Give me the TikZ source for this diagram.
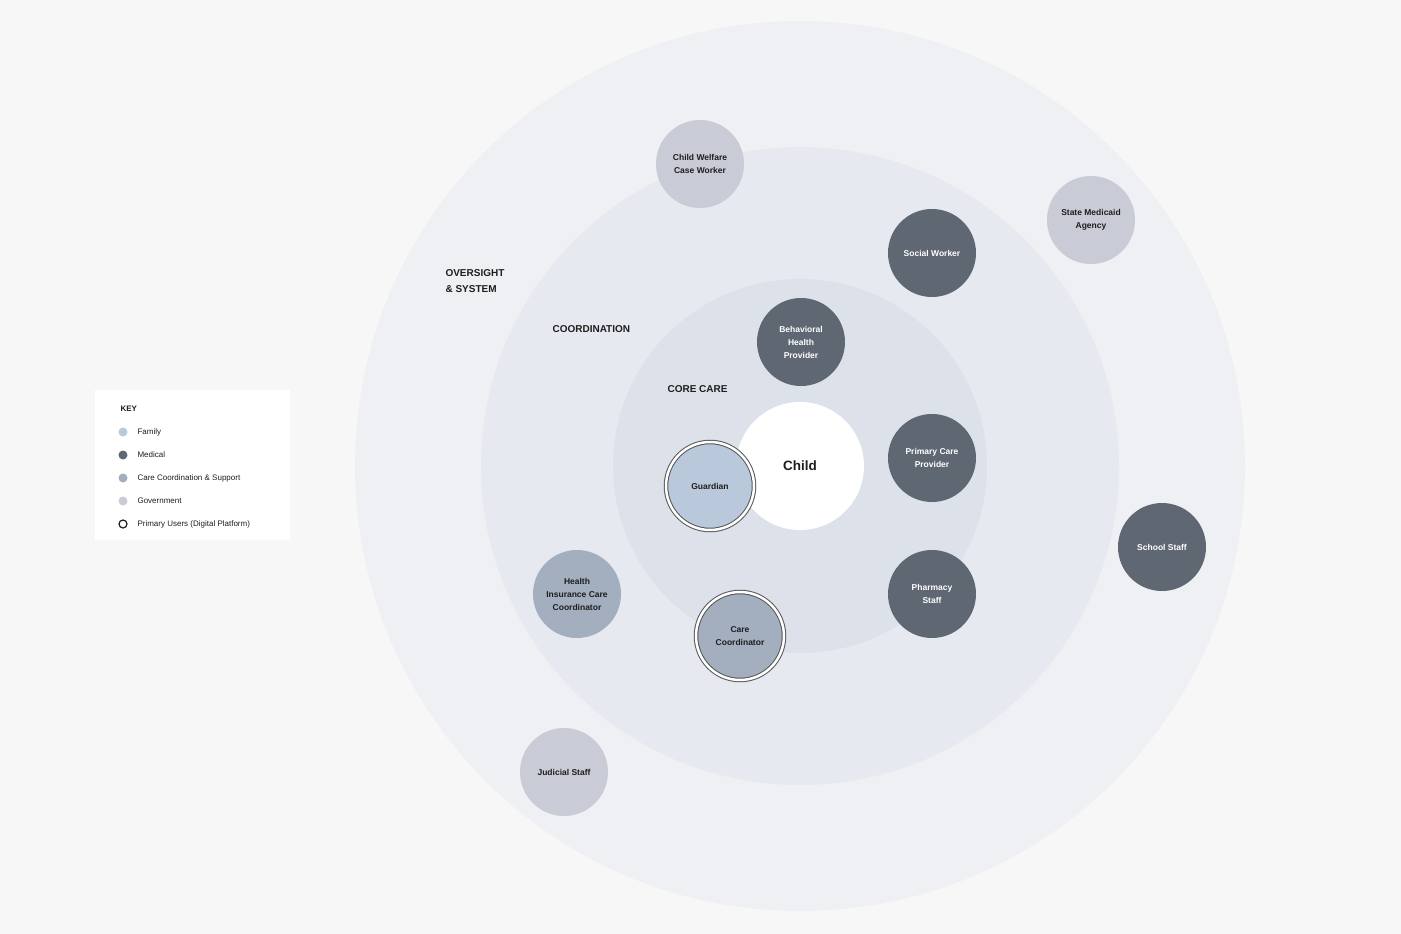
\documentclass[tikz,border=0pt]{standalone}
\usepackage{fontspec}
\setmainfont{Liberation Sans}
\definecolor{bgc}{HTML}{F7F7F7}
\definecolor{ringA}{HTML}{EFF0F3}
\definecolor{ringB}{HTML}{E6E9EF}
\definecolor{ringC}{HTML}{DCE1EA}
\definecolor{fam}{HTML}{BAC8DB}
\definecolor{med}{HTML}{5F6772}
\definecolor{coord}{HTML}{A3AEBE}
\definecolor{gov}{HTML}{C9CCD6}
\definecolor{ink}{HTML}{1E1E1E}
\begin{document}
\begin{tikzpicture}[x=1pt,y=-1pt,
  actor/.style={circle,minimum size=88pt,inner sep=0pt,align=center,font=\fontsize{8.5}{13}\selectfont\bfseries,text=ink},
  medact/.style={actor,fill=med,text=white},
  famact/.style={actor,fill=fam},
  coordact/.style={actor,fill=coord},
  govact/.style={actor,fill=gov},
  primary/.style={double=white,double distance=2.5pt,draw=ink!75,line width=1pt},
  ringlabel/.style={font=\fontsize{10}{16}\selectfont\bfseries,text=ink,align=left},
  keytext/.style={font=\fontsize{8}{10}\selectfont,text=ink,anchor=west},
  keydot/.style={circle,minimum size=9pt,inner sep=0pt}]
\fill[bgc] (0,0) rectangle (1401,934);
\useasboundingbox (0,0) rectangle (1401,934);
\fill[ringA] (800,466) circle (445);
\fill[ringB] (800,466) circle (319);
\fill[ringC] (800,466) circle (187);
\node[circle,fill=white,minimum size=128pt,inner sep=0pt,font=\fontsize{13.5}{16}\selectfont\bfseries,text=ink] (child) at (800,466) {Child};
\node[ringlabel,anchor=west] (lo) at (442,281) {OVERSIGHT\\\& SYSTEM};
\node[ringlabel,anchor=west] (lc) at (549,329) {COORDINATION};
\node[ringlabel,anchor=west] (lcc) at (664,389) {CORE CARE};
\node[govact] (cw) at (700,164) {Child Welfare\\Case Worker};
\node[govact] (sm) at (1091,220) {State Medicaid\\Agency};
\node[medact] (sw) at (932,253) {Social Worker};
\node[medact] (bh) at (801,342) {Behavioral\\Health\\Provider};
\node[medact] (pc) at (932,458) {Primary Care\\Provider};
\node[famact,primary] (gu) at (710,486) {Guardian};
\node[medact] (ss) at (1162,547) {School Staff};
\node[coordact] (hi) at (577,594) {Health\\Insurance Care\\Coordinator};
\node[medact] (ph) at (932,594) {Pharmacy\\Staff};
\node[coordact,primary] (cc) at (740,636) {Care\\Coordinator};
\node[govact] (js) at (564,772) {Judicial Staff};
% key
\fill[white] (95,390) rectangle (290,540);
\node[font=\fontsize{8}{10}\selectfont\bfseries,text=ink,anchor=west] (key) at (117,409) {KEY};
\node[keydot,fill=fam] (k1) at (123,432) {};
\node[keytext] (t1) at (134,432) {Family};
\node[keydot,fill=med] (k2) at (123,455) {};
\node[keytext] (t2) at (134,455) {Medical};
\node[keydot,fill=coord] (k3) at (123,478) {};
\node[keytext] (t3) at (134,478) {Care Coordination \& Support};
\node[keydot,fill=gov] (k4) at (123,501) {};
\node[keytext] (t4) at (134,501) {Government};
\node[keydot,draw=ink,line width=1.2pt,minimum size=8pt] (k5) at (123,524) {};
\node[keytext] (t5) at (134,524) {Primary Users (Digital Platform)};
\end{tikzpicture}
\end{document}
